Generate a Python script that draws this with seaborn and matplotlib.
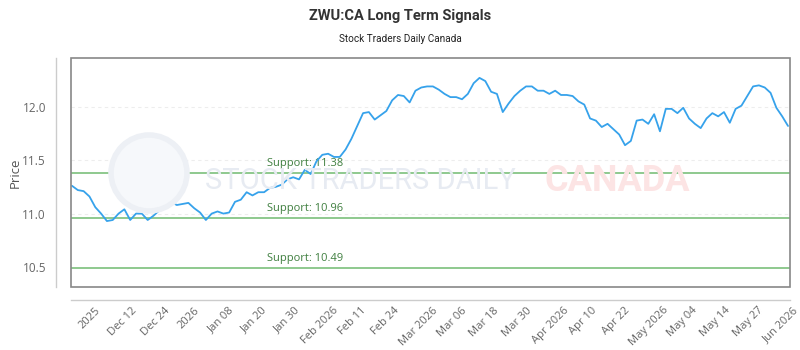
import numpy as np
import pandas as pd
import matplotlib
matplotlib.use("Agg")
import matplotlib.pyplot as plt
from matplotlib.patches import Rectangle, Circle
import seaborn as sns

# ---- data ----
prices = [
    11.26, 11.22, 11.21, 11.16, 11.06, 11.00, 10.93, 10.94, 11.00, 11.04,
    10.94, 11.00, 11.00, 10.94, 10.98, 11.03, 11.07, 11.11, 11.08, 11.09,
    11.10, 11.05, 11.01, 10.94, 11.00, 11.02, 11.00, 11.01, 11.11, 11.13,
    11.20, 11.17, 11.20, 11.20, 11.24, 11.25, 11.27, 11.32, 11.34, 11.32,
    11.41, 11.37, 11.49, 11.55, 11.56, 11.53, 11.53, 11.60, 11.70, 11.82,
    11.94, 11.95, 11.88, 11.92, 11.96, 12.06, 12.11, 12.10, 12.04, 12.15,
    12.18, 12.19,
    12.19, 12.16, 12.12, 12.09, 12.09, 12.07, 12.12, 12.22, 12.27, 12.24,
    12.14, 12.12, 11.95, 12.03, 12.10, 12.15, 12.19, 12.19, 12.15, 12.15,
    12.12, 12.15, 12.11, 12.11, 12.10, 12.05, 12.02, 11.89, 11.87, 11.81,
    11.84, 11.79, 11.74, 11.64, 11.68, 11.87, 11.88, 11.84, 11.93, 11.77,
    11.98, 11.98, 11.94, 11.99, 11.89, 11.84, 11.80, 11.89, 11.94, 11.91,
    11.95, 11.85, 11.98, 12.01, 12.10, 12.19, 12.20, 12.18, 12.13, 11.99,
    11.91, 11.82,
]
tick_labels = ["2025", "Dec 12", "Dec 24", "2026", "Jan 08", "Jan 20", "Jan 30",
               "Feb 2026", "Feb 11", "Feb 24", "Mar 2026", "Mar 06", "Mar 18",
               "Mar 30", "Apr 2026", "Apr 10", "Apr 22", "May 2026", "May 04",
               "May 14", "May 27", "Jun 2026"]
supports = [11.38, 10.96, 10.49]
y_ticks = [10.5, 11.0, 11.5, 12.0]

title = "ZWU:CA Long Term Signals"
subtitle = "Stock Traders Daily Canada"

df = pd.DataFrame({"idx": np.arange(len(prices)), "price": prices})

sns.set_theme(style="white")
plt.rcParams["font.family"] = ["Open Sans", "DejaVu Sans"]

fig = plt.figure(figsize=(8, 3.5), dpi=100)
ax = fig.add_axes([71 / 800, 1 - 287 / 350, 719 / 800, 229 / 350])

narrow = ["Roboto", "DejaVu Sans"]

# watermark
fig.patches.append(Circle((1.49, 1.77), 0.38, transform=fig.dpi_scale_trans,
                          facecolor="#f6f8fb", edgecolor="#edf0f5", lw=4, zorder=0))
ax.set_facecolor("none")
fig.text(205 / 800, 1 - 181 / 350, "STOCK TRADERS DAILY", fontsize=21, color="#e7ebf2",
         family=narrow, va="center", ha="left", zorder=0)
fig.text(545 / 800, 1 - 181 / 350, "CANADA", fontsize=26, color="#fce4e4",
         family=narrow, va="center", ha="left", fontweight="bold", zorder=0)

for y in [11.0, 11.5, 12.0]:
    ax.axhline(y, color="#ededed", lw=0.8, ls=(0, (3, 3)), zorder=1)

for s in supports:
    ax.axhline(s, color="#8ec98e", lw=1.4, zorder=2)
    ax.text(0.2726, s + 0.035, f"Support: {s:.2f}", transform=ax.get_yaxis_transform(),
            color="#3f7f3f", fontsize=8, ha="left", va="bottom", zorder=3)

sns.lineplot(data=df, x="idx", y="price", ax=ax, color="#36a2eb", lw=1.3, zorder=4)

ax.set_xlim(-0.17, len(prices) - 1 + 0.34)
ax.set_ylim(10.313, 12.456)
ax.set_yticks(y_ticks)
ax.set_yticklabels([f"{v:.1f}" for v in y_ticks])
ax.set_xticks(np.linspace(3.0, 121.8, len(tick_labels)))
ax.set_xticklabels(tick_labels)
ax.tick_params(axis="y", length=0, pad=7, labelsize=8.5, labelcolor="#666666")
ax.tick_params(axis="x", length=0, pad=4, labelsize=8, labelcolor="#666666",
               labelrotation=45)
plt.setp(ax.get_xticklabels(), ha="right", rotation_mode="anchor")
ax.set_xlabel("")
ax.set_ylabel("Price", fontsize=9.5, color="#555555")
ax.yaxis.set_label_coords((22 - 71) / 719, 0.5)

for side in ["top", "right"]:
    ax.spines[side].set_visible(False)
ax.spines["left"].set_position(("outward", 11))
ax.spines["bottom"].set_position(("outward", 9))
for side in ["left", "bottom"]:
    ax.spines[side].set_color("#cccccc")
    ax.spines[side].set_linewidth(1)
ax.add_patch(Rectangle((0, 0), 1, 1, transform=ax.transAxes, fill=False,
                       edgecolor="#888888", lw=1.2, clip_on=False, zorder=5))

fig.text(0.5, 1 - 16 / 350, title, ha="center", va="center", fontsize=10.5,
         fontweight="bold", color="#333333", family=narrow)
fig.text(0.5, 1 - 39 / 350, subtitle, ha="center", va="center", fontsize=7.2,
         color="#222222", family=narrow)

fig.savefig("out.png", dpi=100)
